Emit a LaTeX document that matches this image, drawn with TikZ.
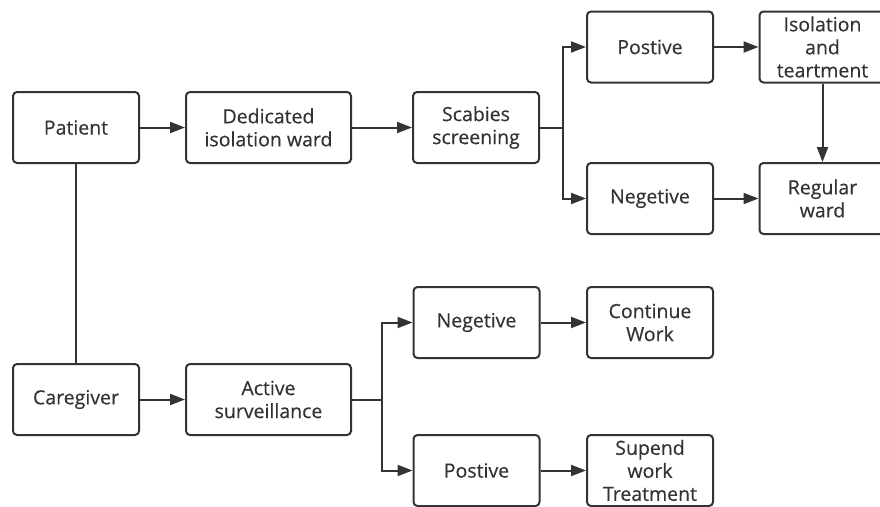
\documentclass[tikz,border=0pt]{standalone}
\usepackage{fontspec}
\setmainfont{Open Sans}
\newfontfamily\boxfont[FakeBold=0.35]{Open Sans}
\usetikzlibrary{arrows.meta}
\definecolor{ink}{HTML}{333333}
\tikzset{
  box/.style={draw=ink, line width=2pt, rounded corners=4pt, rectangle,
    minimum width=126pt, minimum height=71pt, inner sep=0pt, align=center,
    text=ink, font=\boxfont\fontsize{19.5pt}{23pt}\selectfont},
  widebox/.style={box, minimum width=165pt},
  conn/.style={draw=ink, line width=2pt},
  arr/.style={conn, -{Triangle[length=15pt,width=11pt]}}
}
\begin{document}
\begin{tikzpicture}[x=1pt,y=-1pt]
\clip (0,0) rectangle (880,506);
\fill[white] (0,0) rectangle (880,506);
\node[box] (patient) at (76,127.5) {Patient};
\node[widebox] (ward) at (268.5,127.5) {Dedicated\\isolation ward};
\node[box] (scab) at (476,127.5) {Scabies\\screening};
\node[box] (pos1) at (650,47) {Postive};
\node[box] (iso) at (822.5,47) {Isolation\\and\\teartment};
\node[box] (neg1) at (650,198.5) {Negetive};
\node[box] (reg) at (822.5,198.5) {Regular\\ward};
\node[box] (care) at (76,399.5) {Caregiver};
\node[widebox] (act) at (268.5,399.5) {Active\\surveillance};
\node[box] (neg2) at (476.5,322.5) {Negetive};
\node[box] (cont) at (650,322.5) {Continue\\Work};
\node[box] (pos2) at (476.5,470.5) {Postive};
\node[box] (sup) at (650,470.5) {Supend\\work\\Treatment};
\coordinate (b1) at (563,127.5);
\coordinate (b2) at (382,399.5);
\draw[arr] (patient) -- (ward);
\draw[arr] (ward) -- (scab);
\draw[conn] (scab.east) -- (b1);
\draw[arr] (b1) |- (pos1.west);
\draw[arr] (b1) |- (neg1.west);
\draw[arr] (pos1) -- (iso);
\draw[arr] (neg1) -- (reg);
\draw[arr] (iso) -- (reg);
\draw[conn] (patient) -- (care);
\draw[arr] (care) -- (act);
\draw[conn] (act.east) -- (b2);
\draw[arr] (b2) |- (neg2.west);
\draw[arr] (b2) |- (pos2.west);
\draw[arr] (neg2) -- (cont);
\draw[arr] (pos2) -- (sup);
\end{tikzpicture}
\end{document}
